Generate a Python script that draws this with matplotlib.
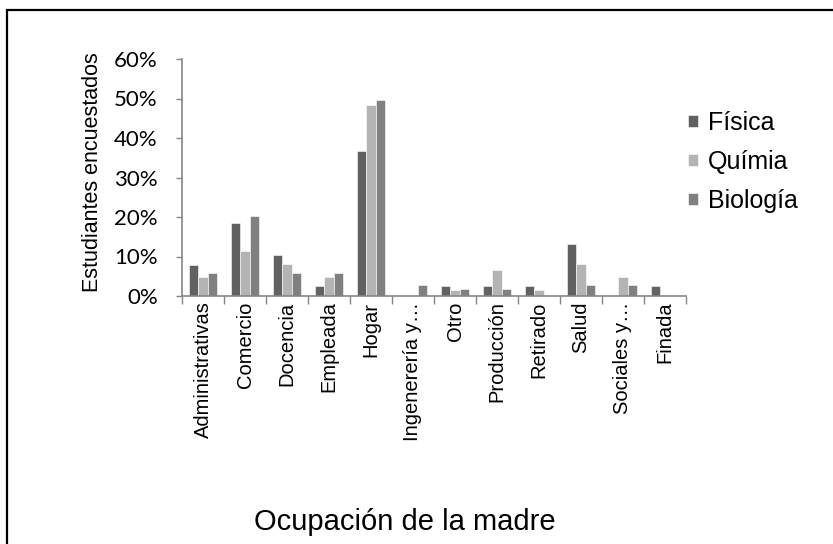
import matplotlib
matplotlib.use('Agg')
import matplotlib.pyplot as plt
from matplotlib.patches import Rectangle
from matplotlib.ticker import FixedLocator, FuncFormatter
import numpy as np

plt.rcParams['font.family'] = ['Liberation Sans', 'DejaVu Sans']

# Data (percent of surveyed students)
categorias = ['Administrativas', 'Comercio', 'Docencia', 'Empleada', 'Hogar',
              'Ingenerería y…', 'Otro', 'Producción', 'Retirado', 'Salud',
              'Sociales y…', 'Finada']
fisica = [7.9, 18.4, 10.5, 2.6, 36.8, 0, 2.6, 2.6, 2.6, 13.2, 0, 2.6]
quimia = [4.8, 11.3, 8.1, 4.8, 48.4, 0, 1.6, 6.5, 1.6, 8.1, 4.8, 0]
biologia = [5.9, 20.2, 5.9, 5.9, 49.6, 2.9, 1.8, 1.7, 0, 2.9, 2.9, 0]

series = [('Física', fisica, '#616161'),
          ('Químia', quimia, '#b4b4b4'),
          ('Biología', biologia, '#808080')]

W, H = 833, 544
fig = plt.figure(figsize=(W / 100, H / 100), dpi=100)
ax = fig.add_axes([182 / W, 1 - 296 / H, 504 / W, 237 / H])

x = np.arange(len(categorias))
bw = 0.224
for i, (name, vals, col) in enumerate(series):
    ax.bar(x + (i - 1) * bw, vals, bw, color=col, label=name,
           edgecolor='white', linewidth=0.4)

ax.set_xlim(-0.5, len(categorias) - 0.5)
ax.set_ylim(0, 60)
ax.set_yticks(np.arange(0, 61, 10))
ax.yaxis.set_major_formatter(FuncFormatter(lambda v, p: '%d%%' % v))
ax.tick_params(axis='y', length=4.5, width=1, color='#868686', pad=13,
               labelsize=16)
for t in ax.get_yticklabels():
    t.set_fontfamily(['Lato', 'DejaVu Sans'])

# tick marks between categories, labels at category centres
ax.xaxis.set_major_locator(FixedLocator(np.arange(-0.5, len(categorias), 1)))
ax.xaxis.set_minor_locator(FixedLocator(x))
ax.xaxis.set_major_formatter(FuncFormatter(lambda v, p: ''))
ax.set_xticks(x, minor=True)
ax.set_xticklabels(categorias, minor=True, rotation=90, fontsize=14.5)
ax.tick_params(axis='x', which='major', length=6, width=1, color='#868686')
ax.tick_params(axis='x', which='minor', length=0, pad=4)

for s in ['top', 'right']:
    ax.spines[s].set_visible(False)
for s in ['left', 'bottom']:
    ax.spines[s].set_color('#868686')
    ax.spines[s].set_linewidth(1.2)

fig.text(92 / W, 1 - 172 / H, 'Estudiantes encuestados', rotation=90,
         ha='center', va='center', fontsize=15.5)
fig.text(405 / W, 1 - 522 / H, 'Ocupación de la madre', ha='center',
         va='center', fontsize=21)

ax.legend(loc='center left', bbox_to_anchor=(688 / W, 1 - 162 / H),
          bbox_transform=fig.transFigure, frameon=False, fontsize=18,
          handlelength=0.4, handleheight=0.4, handletextpad=0.4,
          labelspacing=0.6, borderpad=0, borderaxespad=0)

# chart area outline
fig.add_artist(Rectangle((7 / W, -0.1), 1.5, 1 - 10 / H + 0.1,
                         transform=fig.transFigure, fill=False,
                         edgecolor='black', linewidth=1.6))

fig.savefig('out.png', dpi=100)
